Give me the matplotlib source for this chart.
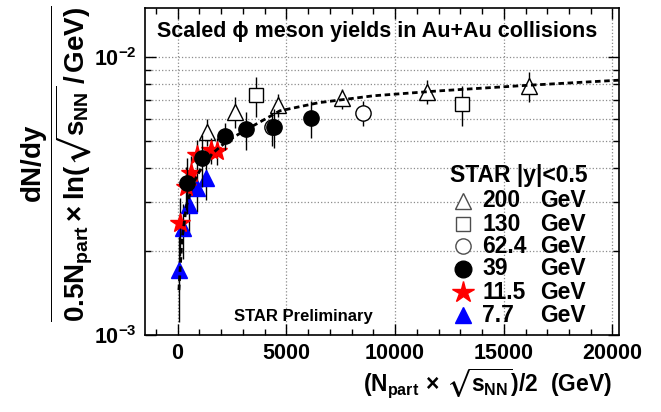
import numpy as np
import matplotlib.pyplot as plt
from matplotlib.ticker import MultipleLocator, FixedLocator, NullFormatter

plt.rcParams['font.family'] = ['Liberation Sans', 'DejaVu Sans']
plt.rcParams['font.weight'] = 'bold'
plt.rcParams['mathtext.fontset'] = 'custom'
plt.rcParams['mathtext.rm'] = 'Liberation Sans:bold'
plt.rcParams['mathtext.it'] = 'Liberation Sans:bold'
plt.rcParams['mathtext.bf'] = 'Liberation Sans:bold'
plt.rcParams['mathtext.sf'] = 'Liberation Sans:bold'
plt.rcParams['mathtext.fallback'] = 'stixsans'

# x = Npart * sqrt(sNN) / 2 ,  y = dN/dy / (0.5 Npart ln(sqrt(sNN)/GeV))
x200 = [1368, 2620, 4611, 7572, 11480, 16152]
y200 = [5.38e-3, 6.36e-3, 6.72e-3, 7.10e-3, 7.50e-3, 7.86e-3]
e200 = [0.60e-3, 0.80e-3, 0.65e-3, 0.60e-3, 0.75e-3, 1.00e-3]

x130 = [3586, 13090]
y130 = [7.30e-3, 6.76e-3]
e130 = [1.20e-3, 1.10e-3]

x62 = [4354, 8538]
y62 = [5.60e-3, 6.30e-3]
e62 = [0.80e-3, 0.65e-3]

x39 = [414, 1103, 2176, 3126, 4430, 6115]
y39 = [3.53e-3, 4.32e-3, 5.21e-3, 5.49e-3, 5.61e-3, 6.02e-3]
e39 = [0.80e-3, 0.90e-3, 0.60e-3, 0.85e-3, 0.90e-3, 0.90e-3]

x11 = [110, 370, 600, 900, 1520, 1800]
y11 = [2.52e-3, 3.42e-3, 3.82e-3, 4.44e-3, 4.63e-3, 4.60e-3]
e11 = [0.60e-3, 0.60e-3, 0.60e-3, 0.60e-3, 0.50e-3, 0.50e-3]

x7 = [60, 245, 520, 875, 1290]
y7 = [1.71e-3, 2.42e-3, 2.94e-3, 3.37e-3, 3.66e-3]
e7 = [0.60e-3, 0.55e-3, 0.60e-3, 0.60e-3, 0.60e-3]

# fit curve
xfit = [60, 100, 200, 400, 700, 1100, 1600, 2300, 3200, 4700, 6500, 9000, 12000, 16000, 20300]
yfit = [1.45e-3, 1.65e-3, 2.2e-3, 2.9e-3, 3.5e-3, 4.0e-3, 4.5e-3, 5.0e-3, 5.5e-3,
        6.4e-3, 6.85e-3, 7.25e-3, 7.55e-3, 7.9e-3, 8.25e-3]

legend_labels = ['200', '130', '62.4', '39', '11.5', '7.7']

W, H = 661, 412
fig = plt.figure(figsize=(W / 100, H / 100), dpi=100)
ax = fig.add_axes([145 / W, (H - 335) / H, (619 - 145) / W, (335 - 8) / H])

ax.set_yscale('log')
ax.set_xlim(-1500, 20300)
ax.set_ylim(1e-3, 1.5e-2)

ax.grid(True, which='major', axis='x', ls=':', color='0.55', lw=0.9)
ax.grid(True, which='both', axis='y', ls=':', color='0.55', lw=0.9)
ax.set_axisbelow(True)

ax.xaxis.set_major_locator(MultipleLocator(5000))
ax.xaxis.set_minor_locator(MultipleLocator(1000))
ax.yaxis.set_major_locator(FixedLocator([1e-3, 1e-2]))
ax.yaxis.set_minor_locator(FixedLocator([k * 1e-3 for k in range(2, 10)]))
ax.yaxis.set_minor_formatter(NullFormatter())
ax.set_yticklabels([r'$10^{-3}$', r'$10^{-2}$'])
ax.tick_params(which='both', direction='in', top=True, right=True, width=1)
ax.tick_params(which='major', length=8, labelsize=15.5, pad=6)
ax.tick_params(which='minor', length=4)
for lab in ax.get_xticklabels():
    lab.set_fontweight('bold')

ax.plot(xfit, yfit, color='black', lw=2, ls=(0, (2, 1.3)), zorder=6)

ekw = dict(ecolor='black', elinewidth=1, capsize=0, ls='none')
ax.errorbar(x200, y200, yerr=e200, fmt='^', ms=11, mfc='white', mec='black', mew=1, zorder=3, **ekw)
ax.errorbar(x130, y130, yerr=e130, fmt='s', ms=10, mfc='white', mec='black', mew=1, zorder=3, **ekw)
ax.errorbar(x62, y62, yerr=e62, fmt='o', ms=11, mfc='white', mec='black', mew=1, zorder=3, **ekw)
ax.errorbar(x7, y7, yerr=e7, fmt='^', ms=11, color='blue', zorder=4, **ekw)
ax.errorbar(x11, y11, yerr=e11, fmt='*', ms=15, color='red', zorder=5, **ekw)
ax.errorbar(x39, y39, yerr=e39, fmt='o', ms=11, color='black', zorder=7, **ekw)

for s in ax.spines.values():
    s.set_linewidth(1.2)

ax.text(0.49, 0.927, 'Scaled ϕ meson yields in Au+Au collisions', transform=ax.transAxes,
        ha='center', va='center', fontsize=15.5, fontweight='bold')
ax.text(0.334, 0.058, 'STAR Preliminary', transform=ax.transAxes,
        ha='center', va='center', fontsize=12, fontweight='bold')

# legend drawn by hand
ax.text(0.643, 0.489, 'STAR |y|<0.5', transform=ax.transAxes, ha='left', va='center',
        fontsize=16.5, fontweight='bold')
rows = [0.410, 0.339, 0.272, 0.202, 0.131, 0.061]
styles = [dict(marker='^', ms=11, mfc='white', mec='0.3', mew=1),
          dict(marker='s', ms=10, mfc='white', mec='0.3', mew=1),
          dict(marker='o', ms=11, mfc='white', mec='0.3', mew=1),
          dict(marker='o', ms=12, color='black'),
          dict(marker='*', ms=16, color='red'),
          dict(marker='^', ms=12, color='blue')]
for yr, lab, st in zip(rows, legend_labels, styles):
    ax.plot([0.671], [yr], transform=ax.transAxes, ls='none', clip_on=False, zorder=8, **st)
    ax.text(0.711, yr, lab, transform=ax.transAxes, ha='left', va='center', fontsize=16.5, fontweight='bold')
    ax.text(0.833, yr, 'GeV', transform=ax.transAxes, ha='left', va='center', fontsize=16.5, fontweight='bold')

fig.text(612 / W, 1 - 391 / H, r'$(N_{part}\,\times\,\sqrt{s_{NN}})/2$  (GeV)',
         ha='right', va='baseline', fontsize=16.5, fontweight='bold')
fig.text(57 / W, 1 - 164 / H, r'$\dfrac{dN/dy}{0.5N_{part}\times ln(\sqrt{s_{NN}}\,/\,GeV)}$',
         rotation=90, ha='center', va='center', fontsize=20, fontweight='bold')

fig.savefig('out.png', dpi=100)
